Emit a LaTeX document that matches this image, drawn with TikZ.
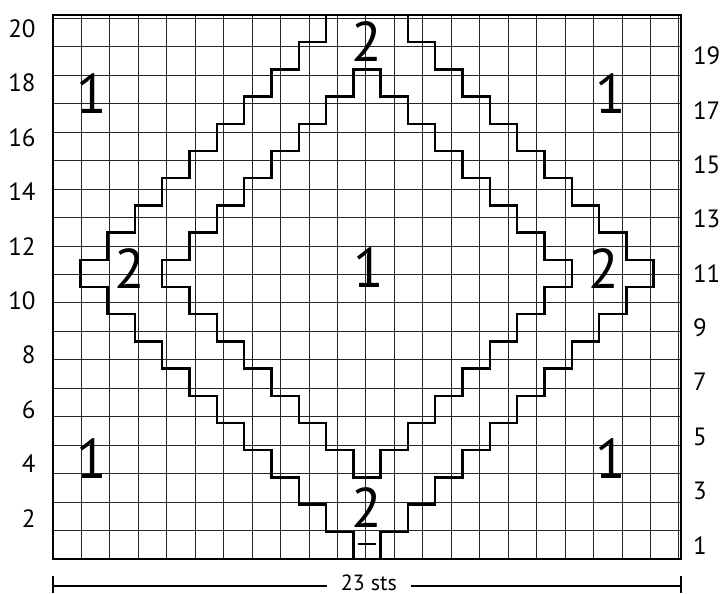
\documentclass[tikz,border=0pt]{standalone}
\usepackage{fontspec}
\setmainfont{PT Sans}
\begin{document}
\begin{tikzpicture}[
  gridline/.style={line width=1pt, black!85},
  frame/.style={line width=2.6pt, line join=miter},
  stair/.style={line width=2.4pt, line join=miter, line cap=rect},
  bignum/.style={font=\fontsize{56}{56}\selectfont, inner sep=0pt},
  rowlbl/.style={font=\fontsize{25}{25}\selectfont, inner sep=0pt},
  dimline/.style={line width=1.7pt}
]
\useasboundingbox (0,0) rectangle (721pt,594pt);
\begin{scope}[shift={(53pt,35pt)}, x=27.3pt, y=27.2pt]
  % grid
  \draw[gridline] (0,0) grid (23,20);
  % outer band boundary
  \draw[stair] (10,20) -- (10,19) -- (9,19) -- (9,18) -- (8,18) -- (8,17) -- (7,17) -- (7,16) -- (6,16) -- (6,15) -- (5,15) -- (5,14) -- (4,14) -- (4,13) -- (3,13) -- (3,12) -- (2,12) -- (2,11) -- (1,11) -- (1,10) -- (2,10) -- (2,9) -- (3,9) -- (3,8) -- (4,8) -- (4,7) -- (5,7) -- (5,6) -- (6,6) -- (6,5) -- (7,5) -- (7,4) -- (8,4) -- (8,3) -- (9,3) -- (9,2) -- (10,2) -- (10,1) -- (11,1) -- (11,0);
  \draw[stair] (13,20) -- (13,19) -- (14,19) -- (14,18) -- (15,18) -- (15,17) -- (16,17) -- (16,16) -- (17,16) -- (17,15) -- (18,15) -- (18,14) -- (19,14) -- (19,13) -- (20,13) -- (20,12) -- (21,12) -- (21,11) -- (22,11) -- (22,10) -- (21,10) -- (21,9) -- (20,9) -- (20,8) -- (19,8) -- (19,7) -- (18,7) -- (18,6) -- (17,6) -- (17,5) -- (16,5) -- (16,4) -- (15,4) -- (15,3) -- (14,3) -- (14,2) -- (13,2) -- (13,1) -- (12,1) -- (12,0);
  % inner diamond
  \draw[stair] (11,18) -- (11,17) -- (10,17) -- (10,16) -- (9,16) -- (9,15) -- (8,15) -- (8,14) -- (7,14) -- (7,13) -- (6,13) -- (6,12) -- (5,12) -- (5,11) -- (4,11) -- (4,10) -- (5,10) -- (5,9) -- (6,9) -- (6,8) -- (7,8) -- (7,7) -- (8,7) -- (8,6) -- (9,6) -- (9,5) -- (10,5) -- (10,4) -- (11,4) -- (11,3) -- (12,3) -- (12,4) -- (13,4) -- (13,5) -- (14,5) -- (14,6) -- (15,6) -- (15,7) -- (16,7) -- (16,8) -- (17,8) -- (17,9) -- (18,9) -- (18,10) -- (19,10) -- (19,11) -- (18,11) -- (18,12) -- (17,12) -- (17,13) -- (16,13) -- (16,14) -- (15,14) -- (15,15) -- (14,15) -- (14,16) -- (13,16) -- (13,17) -- (12,17) -- (12,18) -- cycle;
  % frame
  \draw[frame] (0,0) rectangle (23,20);
  % big numbers
  \node[bignum] (n1tl) at (1.42,17.12) {1};
  \node[bignum] (n1tr) at (20.42,17.12) {1};
  \node[bignum] (n1bl) at (1.42,3.7) {1};
  \node[bignum] (n1br) at (20.42,3.7) {1};
  \node[bignum] (n1c) at (11.55,10.7) {1};
  \node[bignum] (n2t) at (11.5,19.04) {2};
  \node[bignum] (n2l) at (2.82,10.66) {2};
  \node[bignum] (n2r) at (20.18,10.68) {2};
  \node[bignum] (n2b) at (11.5,1.89) {2};
  % purl dash
  \coordinate (pdl) at (11.16,0.54);
  \coordinate (pdr) at (11.84,0.54);
  \draw[line width=2pt] (pdl) -- (pdr);
  % row labels
  \foreach \r in {2,4,...,20} {
    \node[rowlbl, anchor=east] (L\r) at (-0.63,\r-0.5) {\r};
  }
  \foreach \r in {1,3,...,19} {
    \node[rowlbl, anchor=west] (R\r) at (23.44,\r-0.5) {\r};
  }
  % width dimension
  \coordinate (dl) at (0,-0.99);
  \coordinate (dr) at (23,-0.99);
  \coordinate (dlt) at (0,-0.61);
  \coordinate (dlb) at (0,-1.26);
  \coordinate (drt) at (23,-0.61);
  \coordinate (drb) at (23,-1.26);
  \node[font=\fontsize{22}{22}\selectfont, inner xsep=14pt, inner ysep=0pt] (dim) at (11.57,-0.86) {23 sts};
  \draw[dimline] (dl) -- (dim.west |- dl);
  \draw[dimline] (dim.east |- dr) -- (dr);
  \draw[line width=2pt] (dlt) -- (dlb);
  \draw[line width=2pt] (drt) -- (drb);
\end{scope}
\end{tikzpicture}
\end{document}
